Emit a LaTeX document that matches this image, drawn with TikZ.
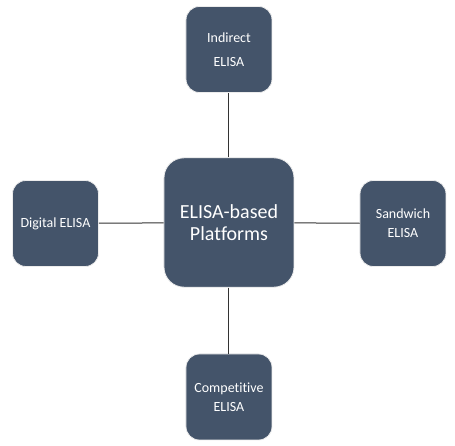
\documentclass[tikz,border=0pt]{standalone}
\usepackage{fontspec}
\setmainfont[Ligatures={NoCommon,NoContextual}]{Carlito}
\definecolor{slate}{HTML}{44546A}

\begin{document}
\begin{tikzpicture}[x=0.75pt, y=-0.75pt]
 \tikzstyle{plat}=[rectangle, rounded corners=10pt, fill=slate, draw=gray!15, line width=0.6pt, text=white, align=center, inner sep=0pt, minimum width=64.5pt, minimum height=64.5pt, font=\fontsize{10.5}{14}\selectfont]
 \tikzstyle{hub}=[plat, rounded corners=15pt, minimum width=97.5pt, minimum height=97pt, font=\fontsize{15}{16.7}\selectfont]
 \tikzstyle{link}=[-, line width=0.75pt, black!80]
 \useasboundingbox (0, 0) rectangle (455, 446);
 %
 \node[hub] (Ctr) at (229, 222.5) {ELISA-based\\Platforms};
 %
 \node[plat] (Ind) at (229, 49.5) {Indirect\\[4pt]ELISA};
 \node[plat] (Dig) at (55.5, 223.5) {Digital ELISA};
 \node[plat] (San) at (403, 223.5) {Sandwich\\ELISA};
 \node[plat] (Com) at (229, 397) {Competitive\\ELISA};
 %%
 \draw[link] (Ctr)--(Ind);
 \draw[link] (Ctr)--(Dig);
 \draw[link] (Ctr)--(San);
 \draw[link] (Ctr)--(Com);
\end{tikzpicture}
\end{document}
